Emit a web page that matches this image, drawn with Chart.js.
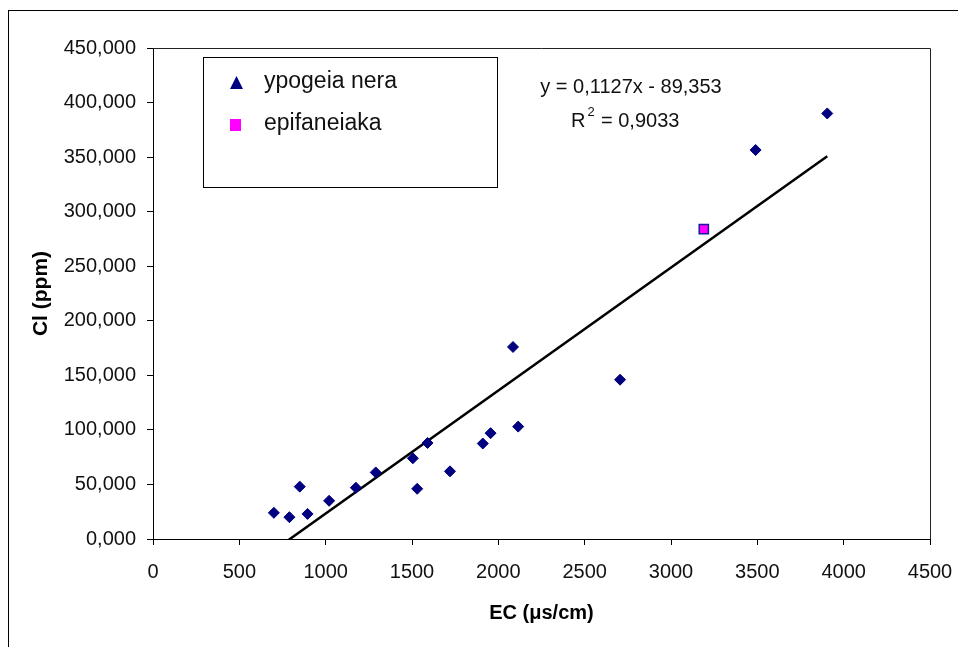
<!DOCTYPE html>
<html>
<head>
<meta charset="utf-8">
<title>Cl vs EC</title>
<script src="https://cdn.jsdelivr.net/npm/chart.js@4.4.0/dist/chart.umd.min.js"></script>
<style>
  html, body { margin: 0; padding: 0; background: #fff; }
  #myChart { display: block; }
</style>
</head>
<body>
<canvas id="myChart" width="958" height="647"></canvas>
<script>
// data
var ecGround = [700, 790, 850, 895, 1020, 1175, 1290, 1505, 1530, 1590, 1720, 1910, 1955, 2085, 2115, 2705, 3490, 3905];
var clGround = [24, 20, 48, 23, 35, 47, 61, 74, 46, 88, 62, 87.5, 97, 176, 103, 146, 356.5, 390];
var ecSurface = [3190];
var clSurface = [284];

var seriesNames = ['ypogeia nera', 'epifaneiaka'];
var xTicks = [0, 500, 1000, 1500, 2000, 2500, 3000, 3500, 4000, 4500];
var yTicks = [0, 50, 100, 150, 200, 250, 300, 350, 400, 450];

// trendline from the equation on the chart
var slope = 0.1127;
var intercept = -89.353;
var eqText = 'y = 0,1127x - 89,353';
var r2Text = ' = 0,9033';

var font = 'Liberation Sans, Arial, sans-serif';

function toPoints(xs, ys) {
    var pts = [];
    for (var i = 0; i < xs.length; i++) {
        pts.push({ x: xs[i], y: ys[i] });
    }
    return pts;
}

var xMin = Math.min.apply(null, ecGround);
var xMax = Math.max.apply(null, ecGround);
var trend = [
    { x: xMin, y: slope * xMin + intercept },
    { x: xMax, y: slope * xMax + intercept }
];

// white page, outer frame, plot frame
var framePlugin = {
    id: 'frame',
    beforeDraw: function (chart) {
        var ctx = chart.ctx;
        ctx.save();
        ctx.fillStyle = '#fff';
        ctx.fillRect(0, 0, chart.width, chart.height);
        ctx.strokeStyle = '#000';
        ctx.lineWidth = 1;
        ctx.strokeRect(8.5, 10.5, 1000, 1000);
        ctx.restore();
    },
    afterDraw: function (chart) {
        var ctx = chart.ctx;
        var a = chart.chartArea;
        ctx.save();
        ctx.strokeStyle = '#222';
        ctx.lineWidth = 1;
        ctx.beginPath();
        ctx.moveTo(a.left, a.top + 0.5);
        ctx.lineTo(a.right + 0.5, a.top + 0.5);
        ctx.lineTo(a.right + 0.5, a.bottom);
        ctx.stroke();

        // legend box
        ctx.strokeStyle = '#000';
        ctx.strokeRect(203.5, 57.5, 294, 130);
        ctx.fillStyle = '#000080';
        ctx.beginPath();
        ctx.moveTo(236.5, 76);
        ctx.lineTo(243, 89);
        ctx.lineTo(230, 89);
        ctx.closePath();
        ctx.fill();
        ctx.fillStyle = '#ff00ff';
        ctx.fillRect(230, 119, 11, 12);

        ctx.fillStyle = '#111';
        ctx.font = '23px ' + font;
        ctx.textAlign = 'left';
        ctx.textBaseline = 'middle';
        ctx.fillText(chart.data.datasets[0].label, 264, 82);
        ctx.fillText(chart.data.datasets[1].label, 264, 124);

        // equation
        ctx.font = '20px ' + font;
        ctx.textAlign = 'center';
        ctx.fillText(eqText, 631, 87);
        ctx.textAlign = 'left';
        ctx.fillText('R', 571, 121);
        var rw = ctx.measureText('R').width;
        ctx.font = '13px ' + font;
        ctx.fillText('2', 571 + rw + 2, 112);
        ctx.font = '20px ' + font;
        ctx.fillText(r2Text, 571 + rw + 10, 121);
        ctx.restore();
    }
};

var ctx = document.getElementById('myChart').getContext('2d');
var chart = new Chart(ctx, {
    type: 'scatter',
    data: {
        datasets: [{
            label: seriesNames[0],
            data: toPoints(ecGround, clGround),
            pointStyle: 'rectRot',
            pointRadius: 5.5,
            backgroundColor: '#000080',
            borderColor: '#000080',
            borderWidth: 1,
            order: 1
        }, {
            label: seriesNames[1],
            data: toPoints(ecSurface, clSurface),
            pointStyle: 'rect',
            pointRadius: 6.5,
            backgroundColor: '#ff00ff',
            borderColor: '#1a1aa0',
            borderWidth: 1.5,
            order: 1
        }, {
            label: 'trend',
            data: trend,
            showLine: true,
            pointRadius: 0,
            borderColor: '#000',
            borderWidth: 2.5,
            clip: 0,
            order: 2
        }]
    },
    options: {
        responsive: false,
        animation: false,
        layout: { padding: { left: 0, top: 48, right: 28, bottom: 8 } },
        plugins: {
            legend: { display: false },
            tooltip: { enabled: false }
        },
        scales: {
            x: {
                type: 'linear',
                min: 0,
                max: 4500,
                afterBuildTicks: function (scale) {
                    scale.ticks = xTicks.map(function (v) { return { value: v }; });
                },
                afterFit: function (scale) {
                    scale.height = 100;
                    scale.paddingLeft = 0;
                    scale.paddingRight = 0;
                },
                grid: { drawOnChartArea: false, drawTicks: true, tickLength: 6, color: '#000' },
                border: { color: '#000', width: 1 },
                ticks: {
                    padding: 15,
                    color: '#111',
                    font: { family: font, size: 20 },
                    maxRotation: 0,
                    callback: function (v) { return String(v); }
                },
                title: {
                    display: true,
                    text: 'EC (μs/cm)',
                    color: '#000',
                    font: { family: font, size: 20, weight: 'bold' },
                    padding: { top: 0, bottom: 14 }
                }
            },
            y: {
                type: 'linear',
                min: 0,
                max: 450,
                afterBuildTicks: function (scale) {
                    scale.ticks = yTicks.map(function (v) { return { value: v }; });
                },
                afterFit: function (scale) { scale.width = 153; },
                grid: { drawOnChartArea: false, drawTicks: true, tickLength: 6, color: '#000' },
                border: { color: '#000', width: 1 },
                ticks: {
                    padding: 11,
                    color: '#111',
                    font: { family: font, size: 20 },
                    callback: function (v) { return v.toFixed(3).replace('.', ','); }
                },
                title: {
                    display: true,
                    text: 'Cl (ppm)',
                    color: '#000',
                    font: { family: font, size: 21, weight: 'bold' },
                    padding: { top: 29, bottom: 0 }
                }
            }
        }
    },
    plugins: [framePlugin]
});
</script>
</body>
</html>
